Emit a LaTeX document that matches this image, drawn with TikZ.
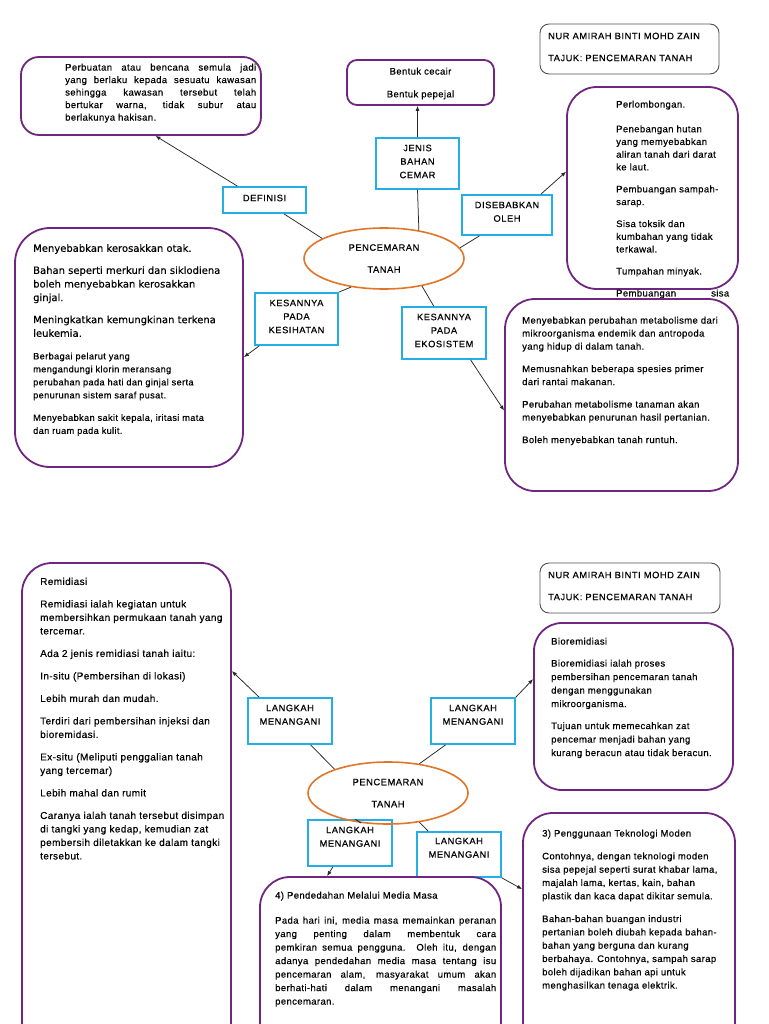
\documentclass[tikz,border=0pt]{standalone}
\usepackage{fontspec}
\setmainfont{Liberation Sans}
\newfontfamily\dvsfont[FakeBold=0.25]{DejaVu Sans}
\newfontfamily\lblfam[LetterSpace=6,FakeBold=0.4]{Liberation Sans}
\newfontfamily\bodyfam[LetterSpace=4,FakeBold=0.35]{Liberation Sans}
\usetikzlibrary{shapes.geometric,arrows.meta,calc}
\newcommand\jline[2]{\makebox[#1][s]{#2}}
\definecolor{purp}{RGB}{112,38,128}
\definecolor{cyanb}{RGB}{35,175,230}
\definecolor{orng}{RGB}{226,118,40}
\definecolor{namegray}{RGB}{80,80,80}
\begin{document}
\begin{tikzpicture}[x=1pt,y=-1pt,
  pbox/.style={draw=purp, line width=1.8pt, inner sep=0pt, rectangle},
  cbox/.style={draw=cyanb, line width=1.8pt, inner sep=0pt, rectangle},
  namebox/.style={draw=namegray, line width=0.9pt, rounded corners=9pt, inner sep=0pt, rectangle},
  ell/.style={ellipse, draw=orng, line width=1.6pt, inner sep=0pt, align=center, font=\lblfam\fontsize{9.3}{13.5}\selectfont},
  btxt/.style={anchor=north west, inner sep=0pt, align=left, font=\bodyfam\fontsize{9.5}{13.3}\selectfont},
  lbltxt/.style={anchor=north, inner sep=0pt, align=center, font=\lblfam\fontsize{9.3}{13.5}\selectfont},
  conn/.style={line width=0.75pt, draw=black!85},
  arr/.style={conn, -{Latex[length=5pt,width=4pt]}}]
\useasboundingbox (0,0) rectangle (768,1024);
\fill[white] (0,0) rectangle (768,1024);
\clip (0,0) rectangle (768,1024);

% ================= TOP HALF =================
\node[namebox, minimum width=179pt, minimum height=50pt] (nameT) at (629.5,49) {};
\node[lbltxt, anchor=north west, align=left] (nameTt) at (548,32.5) {NUR AMIRAH BINTI MOHD ZAIN\\[8.5pt]TAJUK: PENCEMARAN TANAH};

\node[pbox, rounded corners=18pt, minimum width=240pt, minimum height=78pt] (defB) at (141,96) {};
\node[btxt, font=\bodyfam\fontsize{9.5}{12.5}\selectfont] (defBt) at (65,63.5) {%
\jline{191pt}{Perbuatan atau bencana semula jadi}\\
\jline{191pt}{yang berlaku kepada sesuatu kawasan}\\
\jline{191pt}{sehingga kawasan tersebut telah}\\
\jline{191pt}{bertukar warna, tidak subur atau}\\
berlakunya hakisan.};

\node[pbox, rounded corners=10pt, minimum width=147pt, minimum height=45pt] (bentuk) at (420.5,82.5) {};
\node[btxt, anchor=north, align=center] (bentukt) at (420.5,67.5) {Bentuk cecair\\[9.5pt]Bentuk pepejal};

\node[cbox, minimum width=83pt, minimum height=51pt] (jenis) at (417.5,163.5) {};
\node[lbltxt] (jenist) at (417.5,144.5) {JENIS\\BAHAN\\CEMAR};

\node[cbox, minimum width=83pt, minimum height=26pt] (deflbl) at (264.5,200) {};
\node[lbltxt] (deflblt) at (264.5,194.5) {DEFINISI};

\node[cbox, minimum width=90pt, minimum height=40pt] (sebab) at (507,215) {};
\node[lbltxt] (sebabt) at (507,201.5) {DISEBABKAN\\OLEH};

\node[pbox, rounded corners=30pt, minimum width=171pt, minimum height=202pt] (perl) at (652.5,188) {};
\node[btxt, font=\bodyfam\fontsize{9.5}{12.7}\selectfont] (perlt) at (616,100.5) {%
Perlombongan.\\[12pt]
Penebangan hutan\\ yang memyebabkan\\ aliran tanah dari darat\\ ke laut.\\[9.3pt]
Pembuangan sampah-\\ sarap.\\[9.3pt]
Sisa toksik dan\\ kumbahan yang tidak\\ terkawal.\\[9.3pt]
Tumpahan minyak.\\[9.3pt]
\jline{113pt}{Pembuangan sisa}};

\node[ell, minimum width=160pt, minimum height=61pt] (ellA) at (384,258.5) {PENCEMARAN\\[8.5pt]TANAH};

\node[pbox, rounded corners=35pt, minimum width=228pt, minimum height=239pt] (kesB) at (129,347.5) {};
\node[btxt, font=\dvsfont\fontsize{10}{13.6}\selectfont] (kesBt1) at (33,244) {%
Menyebabkan kerosakkan otak.\\[8.5pt]
Bahan seperti merkuri dan siklodiena\\ boleh menyebabkan kerosakkan\\ ginjal.\\[8.5pt]
Meningkatkan kemungkinan terkena\\ leukemia.};
\node[btxt, font=\bodyfam\fontsize{9.2}{13}\selectfont] (kesBt2) at (33,352.5) {%
Berbagai pelarut yang\\ mengandungi klorin meransang\\ perubahan pada hati dan ginjal serta\\ penurunan sistem saraf pusat.\\[9.5pt]
Menyebabkan sakit kepala, iritasi mata\\ dan ruam pada kulit.};

\node[cbox, minimum width=83pt, minimum height=52pt] (keslbl) at (296.5,319) {};
\node[lbltxt] (keslblt) at (296.5,299.5) {KESANNYA\\PADA\\KESIHATAN};

\node[cbox, minimum width=84pt, minimum height=52pt] (ekolbl) at (444,333) {};
\node[lbltxt] (ekolblt) at (444,313.5) {KESANNYA\\PADA\\EKOSISTEM};

\node[pbox, rounded corners=30pt, minimum width=233pt, minimum height=192pt] (ekoB) at (621.5,395) {};
\node[btxt, font=\bodyfam\fontsize{9.5}{13}\selectfont] (ekoBt) at (522,316.5) {%
Menyebabkan perubahan metabolisme dari\\ mikroorganisma endemik dan antropoda\\ yang hidup di dalam tanah.\\[9.5pt]
Memusnahkan beberapa spesies primer\\ dari rantai makanan.\\[9.5pt]
Perubahan metabolisme tanaman akan\\ menyebabkan penurunan hasil pertanian.\\[9.5pt]
Boleh menyebabkan tanah runtuh.};

% connectors top
\draw[arr] ($(deflbl.north west)!0.18!(deflbl.north east)$) -- ($(defB.south west)!0.56!(defB.south east)$);
\draw[conn] ($(deflbl.south west)!0.73!(deflbl.south east)$) -- (ellA.162);
\draw[arr] (jenis.north) -- (jenis.north |- bentuk.south);
\draw[conn] (jenis.south) -- (ellA.39);
\draw[conn] ($(sebab.south west)!0.2!(sebab.south east)$) -- (ellA.8);
\draw[arr] ($(sebab.north west)!0.87!(sebab.north east)$) -- ($(perl.north west)!0.42!(perl.south west)$);
\draw[conn] (keslbl.north east) -- (ellA.221);
\draw[arr] ($(keslbl.south west)!0.06!(keslbl.south east)$) -- ($(kesB.north east)!0.54!(kesB.south east)$);
\draw[conn] ($(ekolbl.north west)!0.38!(ekolbl.north east)$) -- (ellA.324);
\draw[arr] ($(ekolbl.south west)!0.81!(ekolbl.south east)$) -- ($(ekoB.north west)!0.58!(ekoB.south west)$);

% ================= BOTTOM HALF =================
\node[namebox, minimum width=180pt, minimum height=50pt] (nameB) at (630,588) {};
\node[lbltxt, anchor=north west, align=left] (nameBt) at (548,571.5) {NUR AMIRAH BINTI MOHD ZAIN\\[8.5pt]TAJUK: PENCEMARAN TANAH};

\node[pbox, rounded corners=30pt, minimum width=209pt, minimum height=497pt] (remid) at (126.5,811.5) {};
\node[btxt, font=\bodyfam\fontsize{10}{13.5}\selectfont] (remidt) at (40,577.5) {%
Remidiasi\\[9pt]
Remidiasi ialah kegiatan untuk\\ membersihkan permukaan tanah yang\\ tercemar.\\[9pt]
Ada 2 jenis remidiasi tanah iaitu:\\[9pt]
In-situ (Pembersihan di lokasi)\\[9pt]
Lebih murah dan mudah.\\[9pt]
Terdiri dari pembersihan injeksi dan\\ bioremidasi.\\[9pt]
Ex-situ (Meliputi penggalian tanah\\ yang tercemar)\\[9pt]
Lebih mahal dan rumit\\[9pt]
Caranya ialah tanah tersebut disimpan\\ di tangki yang kedap, kemudian zat\\ pembersih diletakkan ke dalam tangki\\ tersebut.};

\node[pbox, rounded corners=28pt, minimum width=199pt, minimum height=167pt] (bio) at (633.5,706.5) {};
\node[btxt, font=\bodyfam\fontsize{9.5}{13.5}\selectfont] (biot) at (551,637.5) {%
Bioremidiasi\\[8.5pt]
Bioremidiasi ialah proses\\ pembersihan pencemaran tanah\\ dengan menggunakan\\ mikroorganisma.\\[8.5pt]
Tujuan untuk memecahkan zat\\ pencemar menjadi bahan yang\\ kurang beracun atau tidak beracun.};

\node[cbox, minimum width=84pt, minimum height=46pt] (la) at (290,721) {};
\node[lbltxt] (lat) at (290,704.5) {LANGKAH\\MENANGANI};
\node[cbox, minimum width=84pt, minimum height=46pt] (lb) at (473,721) {};
\node[lbltxt] (lbt) at (473,704.5) {LANGKAH\\MENANGANI};
\node[cbox, minimum width=84pt, minimum height=46pt] (lc) at (350,843) {};
\node[lbltxt] (lct) at (350,826.5) {LANGKAH\\MENANGANI};
\node[cbox, minimum width=84pt, minimum height=45pt] (ld) at (459,854.5) {};
\node[lbltxt] (ldt) at (459,837.5) {LANGKAH\\MENANGANI};

\node[ell, minimum width=160pt, minimum height=62pt] (ellB) at (388,793) {PENCEMARAN\\[8.5pt]TANAH};

\node[pbox, rounded corners=30pt, minimum width=241pt, minimum height=183pt] (pend) at (380.5,968.5) {};
\node[btxt, font=\bodyfam\fontsize{9.5}{13.5}\selectfont] (pendt) at (275,891.5) {%
4) Pendedahan Melalui Media Masa\\[11.5pt]
\jline{221pt}{Pada hari ini, media masa memainkan peranan}\\
\jline{221pt}{yang penting dalam membentuk cara}\\
\jline{221pt}{pemkiran semua pengguna. Oleh itu, dengan}\\
\jline{221pt}{adanya pendedahan media masa tentang isu}\\
\jline{221pt}{pencemaran alam, masyarakat umum akan}\\
\jline{221pt}{berhati-hati dalam menangani masalah}\\
pencemaran.};

\node[pbox, rounded corners=30pt, minimum width=212pt, minimum height=247pt] (peng) at (629,936.5) {};
\node[btxt, font=\bodyfam\fontsize{9.5}{13.3}\selectfont] (pengt) at (542,829.5) {%
3) Penggunaan Teknologi Moden\\[9.5pt]
Contohnya, dengan teknologi moden\\ sisa pepejal seperti surat khabar lama,\\ majalah lama, kertas, kain, bahan\\ plastik dan kaca dapat dikitar semula.\\[9.5pt]
Bahan-bahan buangan industri\\ pertanian boleh diubah kepada bahan-\\ bahan yang berguna dan kurang\\ berbahaya. Contohnya, sampah sarap\\ boleh dijadikan bahan api untuk\\ menghasilkan tenaga elektrik.};

% connectors bottom
\draw[arr] ($(la.north west)!0.14!(la.north east)$) -- ($(remid.north east)+(0,109)$);
\draw[conn] ($(la.south west)!0.74!(la.south east)$) -- (ellB.156);
\draw[arr] (lb.north east) -- ($(bio.north west)+(0,57)$);
\draw[conn] ($(lb.south west)!0.18!(lb.south east)$) -- (ellB.43);
\draw[conn] ($(lc.north west)!0.56!(lc.north east)$) -- (ellB.228);
\draw[arr] ($(lc.south west)!0.3!(lc.south east)$) -- ($(pend.north west)+(68,0)$);
\draw[conn] (ellB.317) -- ($(ld.north west)!0.14!(ld.north east)$);
\draw[arr] (ld.south east) -- ($(peng.north west)+(0,77)$);
\end{tikzpicture}
\end{document}
